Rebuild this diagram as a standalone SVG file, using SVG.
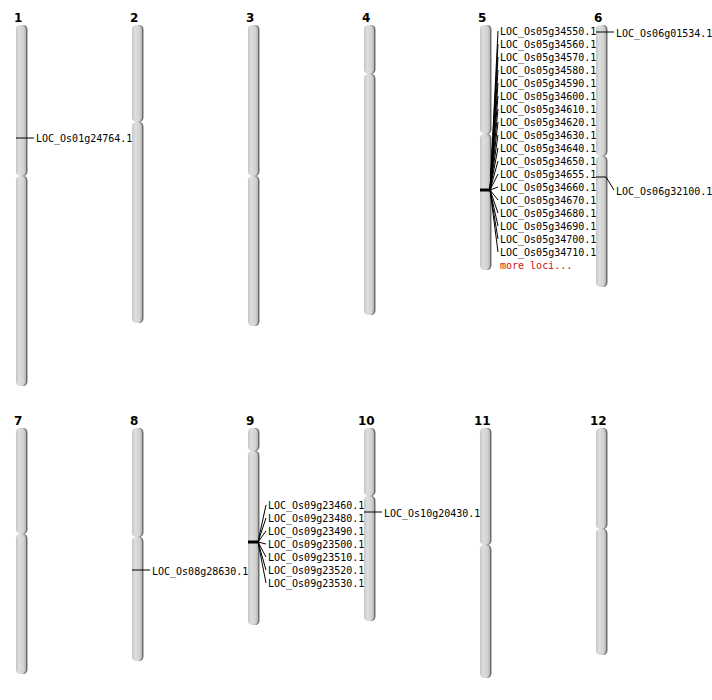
<svg xmlns="http://www.w3.org/2000/svg" width="712" height="700" viewBox="0 0 712 700">
<defs>
<linearGradient id="cg" x1="0" y1="0" x2="1" y2="0">
<stop offset="0" stop-color="#c4c4c4"/>
<stop offset="0.3" stop-color="#dedede"/>
<stop offset="0.75" stop-color="#d2d2d2"/>
<stop offset="1" stop-color="#b4b4b4"/>
</linearGradient>
</defs>
<style>
.sh{fill:#6e6e6e}
.arm{fill:url(#cg)}
.num{font-family:"DejaVu Sans",sans-serif;font-weight:bold;font-size:12px;fill:#000}
.lab{font-family:"DejaVu Sans Mono",monospace;font-size:10px;fill:#000}
.more{font-family:"DejaVu Sans Mono",monospace;font-size:10px;fill:#d01010}
.ln{stroke:#000;stroke-width:1;fill:none}
.mk{stroke:#000;stroke-width:3;fill:none}
</style>
<rect width="712" height="700" fill="#fff"/>

<g id="chr1"><text class="num" x="14" y="22">1</text>
<rect class="sh" x="17.5" y="25" width="10" height="151" rx="4.5"/><rect class="arm" x="16" y="25" width="10" height="151" rx="4.5"/>
<rect class="sh" x="17.5" y="176" width="10" height="210" rx="4.5"/><rect class="arm" x="16" y="176" width="10" height="210" rx="4.5"/></g>
<g id="chr2"><text class="num" x="130" y="22">2</text>
<rect class="sh" x="133.5" y="25" width="10" height="97" rx="4.5"/><rect class="arm" x="132" y="25" width="10" height="97" rx="4.5"/>
<rect class="sh" x="133.5" y="122" width="10" height="201" rx="4.5"/><rect class="arm" x="132" y="122" width="10" height="201" rx="4.5"/></g>
<g id="chr3"><text class="num" x="246" y="22">3</text>
<rect class="sh" x="249.5" y="25" width="10" height="151" rx="4.5"/><rect class="arm" x="248" y="25" width="10" height="151" rx="4.5"/>
<rect class="sh" x="249.5" y="176" width="10" height="150" rx="4.5"/><rect class="arm" x="248" y="176" width="10" height="150" rx="4.5"/></g>
<g id="chr4"><text class="num" x="362" y="22">4</text>
<rect class="sh" x="365.5" y="25" width="10" height="49" rx="4.5"/><rect class="arm" x="364" y="25" width="10" height="49" rx="4.5"/>
<rect class="sh" x="365.5" y="74" width="10" height="241" rx="4.5"/><rect class="arm" x="364" y="74" width="10" height="241" rx="4.5"/></g>
<g id="chr5"><text class="num" x="478" y="22">5</text>
<rect class="sh" x="481.5" y="25" width="10" height="109" rx="4.5"/><rect class="arm" x="480" y="25" width="10" height="109" rx="4.5"/>
<rect class="sh" x="481.5" y="134" width="10" height="136" rx="4.5"/><rect class="arm" x="480" y="134" width="10" height="136" rx="4.5"/></g>
<g id="chr6"><text class="num" x="594" y="22">6</text>
<rect class="sh" x="597.5" y="25" width="10" height="131" rx="4.5"/><rect class="arm" x="596" y="25" width="10" height="131" rx="4.5"/>
<rect class="sh" x="597.5" y="156" width="10" height="131" rx="4.5"/><rect class="arm" x="596" y="156" width="10" height="131" rx="4.5"/></g>

<g id="chr7"><text class="num" x="14" y="425">7</text>
<rect class="sh" x="17.5" y="428" width="10" height="106" rx="4.5"/><rect class="arm" x="16" y="428" width="10" height="106" rx="4.5"/>
<rect class="sh" x="17.5" y="534" width="10" height="140" rx="4.5"/><rect class="arm" x="16" y="534" width="10" height="140" rx="4.5"/></g>
<g id="chr8"><text class="num" x="130" y="425">8</text>
<rect class="sh" x="133.5" y="428" width="10" height="109" rx="4.5"/><rect class="arm" x="132" y="428" width="10" height="109" rx="4.5"/>
<rect class="sh" x="133.5" y="537" width="10" height="124" rx="4.5"/><rect class="arm" x="132" y="537" width="10" height="124" rx="4.5"/></g>
<g id="chr9"><text class="num" x="246" y="425">9</text>
<rect class="sh" x="249.5" y="428" width="10" height="23" rx="4.5"/><rect class="arm" x="248" y="428" width="10" height="23" rx="4.5"/>
<rect class="sh" x="249.5" y="451" width="10" height="174" rx="4.5"/><rect class="arm" x="248" y="451" width="10" height="174" rx="4.5"/></g>
<g id="chr10"><text class="num" x="358" y="425">10</text>
<rect class="sh" x="365.5" y="428" width="10" height="68" rx="4.5"/><rect class="arm" x="364" y="428" width="10" height="68" rx="4.5"/>
<rect class="sh" x="365.5" y="496" width="10" height="125" rx="4.5"/><rect class="arm" x="364" y="496" width="10" height="125" rx="4.5"/></g>
<g id="chr11"><text class="num" x="474" y="425">11</text>
<rect class="sh" x="481.5" y="428" width="10" height="117" rx="4.5"/><rect class="arm" x="480" y="428" width="10" height="117" rx="4.5"/>
<rect class="sh" x="481.5" y="545" width="10" height="133" rx="4.5"/><rect class="arm" x="480" y="545" width="10" height="133" rx="4.5"/></g>
<g id="chr12"><text class="num" x="590" y="425">12</text>
<rect class="sh" x="597.5" y="428" width="10" height="101" rx="4.5"/><rect class="arm" x="596" y="428" width="10" height="101" rx="4.5"/>
<rect class="sh" x="597.5" y="529" width="10" height="126" rx="4.5"/><rect class="arm" x="596" y="529" width="10" height="126" rx="4.5"/></g>

<g id="connectors">
<path class="ln" d="M16 138H34"/>
<path class="ln" d="M596 32H614"/>
<path class="ln" d="M596 177H606L614 190"/>
<path class="ln" d="M132 570H150"/>
<path class="ln" d="M364 512H382"/>
<path class="mk" d="M480 190H491"/>
<path class="ln" d="M490 190L498 31M490 190L498 44M490 190L498 57M490 190L498 70M490 190L498 83M490 190L498 96M490 190L498 109M490 190L498 122M490 190L498 135M490 190L498 148M490 190L498 161M490 190L498 174M490 190L498 187M490 190L498 200M490 190L498 213M490 190L498 226M490 190L498 239M490 190L498 252"/>
<path class="mk" d="M248 542H259"/>
<path class="ln" d="M258 542L266 505M258 542L266 518M258 542L266 531M258 542L266 544M258 542L266 557M258 542L266 570M258 542L266 583"/>
</g>

<g id="labels">
<text class="lab" x="36" y="141.5">LOC_Os01g24764.1</text>
<text class="lab" x="616" y="36.5">LOC_Os06g01534.1</text>
<text class="lab" x="616" y="194.5">LOC_Os06g32100.1</text>
<text class="lab" x="152" y="574.5">LOC_Os08g28630.1</text>
<text class="lab" x="384" y="516.5">LOC_Os10g20430.1</text>
<text class="lab" x="500" y="34.5">LOC_Os05g34550.1</text>
<text class="lab" x="500" y="47.5">LOC_Os05g34560.1</text>
<text class="lab" x="500" y="60.5">LOC_Os05g34570.1</text>
<text class="lab" x="500" y="73.5">LOC_Os05g34580.1</text>
<text class="lab" x="500" y="86.5">LOC_Os05g34590.1</text>
<text class="lab" x="500" y="99.5">LOC_Os05g34600.1</text>
<text class="lab" x="500" y="112.5">LOC_Os05g34610.1</text>
<text class="lab" x="500" y="125.5">LOC_Os05g34620.1</text>
<text class="lab" x="500" y="138.5">LOC_Os05g34630.1</text>
<text class="lab" x="500" y="151.5">LOC_Os05g34640.1</text>
<text class="lab" x="500" y="164.5">LOC_Os05g34650.1</text>
<text class="lab" x="500" y="177.5">LOC_Os05g34655.1</text>
<text class="lab" x="500" y="190.5">LOC_Os05g34660.1</text>
<text class="lab" x="500" y="203.5">LOC_Os05g34670.1</text>
<text class="lab" x="500" y="216.5">LOC_Os05g34680.1</text>
<text class="lab" x="500" y="229.5">LOC_Os05g34690.1</text>
<text class="lab" x="500" y="242.5">LOC_Os05g34700.1</text>
<text class="lab" x="500" y="255.5">LOC_Os05g34710.1</text>
<text class="more" x="500" y="268.5">more loci...</text>
<text class="lab" x="268" y="508.5">LOC_Os09g23460.1</text>
<text class="lab" x="268" y="521.5">LOC_Os09g23480.1</text>
<text class="lab" x="268" y="534.5">LOC_Os09g23490.1</text>
<text class="lab" x="268" y="547.5">LOC_Os09g23500.1</text>
<text class="lab" x="268" y="560.5">LOC_Os09g23510.1</text>
<text class="lab" x="268" y="573.5">LOC_Os09g23520.1</text>
<text class="lab" x="268" y="586.5">LOC_Os09g23530.1</text>
</g>
</svg>
